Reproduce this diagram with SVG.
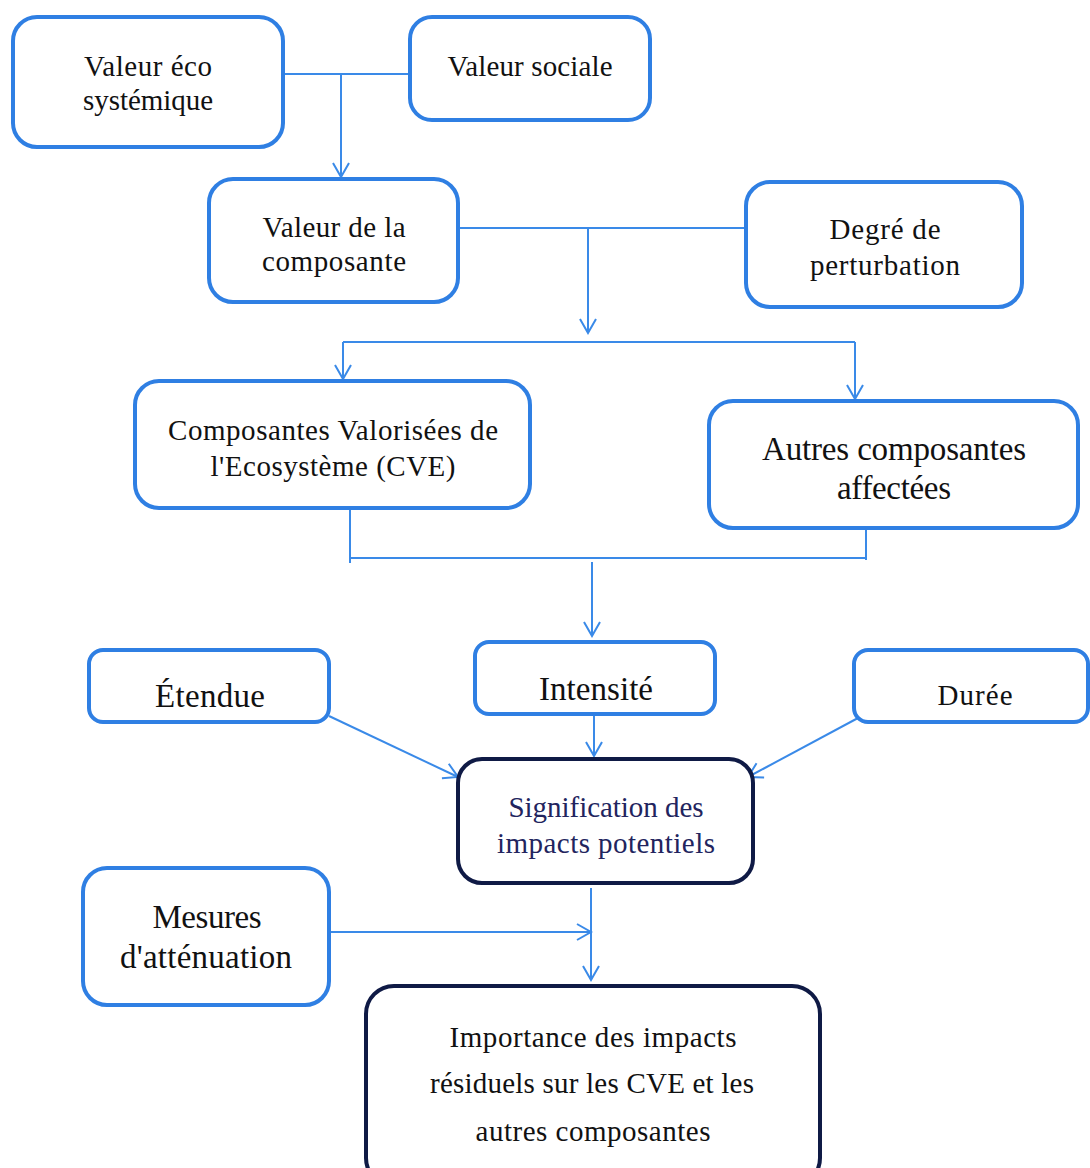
<svg xmlns="http://www.w3.org/2000/svg" width="1090" height="1168" viewBox="0 0 1090 1168">
<style>
.box{fill:#fff;stroke:#2f7fe3;stroke-width:4}
.dark{fill:#fff;stroke:#0f1a45;stroke-width:4}
text{font-family:'Liberation Serif','DejaVu Serif',serif;font-size:29px;fill:#111;text-anchor:middle}
.tl{font-size:33px}
.nv{fill:#22245e}
.c{fill:none;stroke:#3a8ae8;stroke-width:2}
</style>
<defs>
<marker id="ah" viewBox="0 0 20 20" refX="18" refY="10" markerWidth="20" markerHeight="20" markerUnits="userSpaceOnUse" orient="auto">
<path d="M4,2 L18,10 L4,18" fill="none" stroke="#3a8ae8" stroke-width="2"/>
</marker>
</defs>
<rect width="1090" height="1168" fill="#fff"/>
<g id="connectors">
<path class="c" d="M281,74 H410"/>
<path class="c" d="M341,74 V177" marker-end="url(#ah)"/>
<path class="c" d="M458,228 H746"/>
<path class="c" d="M588,228 V333" marker-end="url(#ah)"/>
<path class="c" d="M343,342 H855"/>
<path class="c" d="M343,342 V379" marker-end="url(#ah)"/>
<path class="c" d="M855,342 V399" marker-end="url(#ah)"/>
<path class="c" d="M350,508 V563"/>
<path class="c" d="M866,528 V560"/>
<path class="c" d="M350,558 H866"/>
<path class="c" d="M592,562 V636" marker-end="url(#ah)"/>
<path class="c" d="M329,716 L458,777" marker-end="url(#ah)"/>
<path class="c" d="M858,718 L748,777" marker-end="url(#ah)"/>
<path class="c" d="M594,714 V756" marker-end="url(#ah)"/>
<path class="c" d="M329,932 H591" marker-end="url(#ah)"/>
<path class="c" d="M591,888 V980" marker-end="url(#ah)"/>
</g>
<g id="valeur-eco">
<rect class="box" x="13" y="17" width="270" height="130" rx="24"/>
<text x="148" y="76" textLength="128">Valeur éco</text>
<text x="148" y="110" textLength="130">systémique</text>
</g>
<g id="valeur-sociale">
<rect class="box" x="410" y="17" width="240" height="103" rx="22"/>
<text x="530" y="76" textLength="165">Valeur sociale</text>
</g>
<g id="valeur-composante">
<rect class="box" x="209" y="179" width="249" height="123" rx="24"/>
<text x="334" y="237" textLength="143">Valeur de la</text>
<text x="334" y="271" textLength="144">composante</text>
</g>
<g id="degre-perturbation">
<rect class="box" x="746" y="182" width="276" height="125" rx="24"/>
<text x="885" y="239" textLength="111">Degré de</text>
<text x="885" y="275" textLength="150">perturbation</text>
</g>
<g id="cve">
<rect class="box" x="135" y="381" width="395" height="127" rx="24"/>
<text x="333" y="440" textLength="330">Composantes Valorisées de</text>
<text x="333" y="476" textLength="245">l'Ecosystème (CVE)</text>
</g>
<g id="autres-composantes">
<rect class="box" x="709" y="401" width="369" height="127" rx="24"/>
<text class="tl" x="894" y="460" textLength="264">Autres composantes</text>
<text class="tl" x="894" y="499" textLength="114">affectées</text>
</g>
<g id="intensite">
<rect class="box" x="475" y="642" width="240" height="72" rx="14"/>
<text class="tl" x="596" y="700" textLength="114">Intensité</text>
</g>
<g id="etendue">
<rect class="box" x="89" y="650" width="240" height="72" rx="14"/>
<text class="tl" x="210" y="707" textLength="110">Étendue</text>
</g>
<g id="duree">
<rect class="box" x="854" y="650" width="234" height="72" rx="14"/>
<text x="975" y="705" textLength="75">Durée</text>
</g>
<g id="signification">
<rect class="dark" x="458" y="759" width="295" height="124" rx="24"/>
<text class="nv" x="606" y="817" textLength="195">Signification des</text>
<text class="nv" x="606" y="853" textLength="218">impacts potentiels</text>
</g>
<g id="mesures">
<rect class="box" x="83" y="868" width="246" height="137" rx="24"/>
<text class="tl" x="207" y="928" textLength="109">Mesures</text>
<text class="tl" x="206" y="968" textLength="172">d'atténuation</text>
</g>
<g id="importance">
<rect class="dark" x="366" y="986" width="454" height="200" rx="28"/>
<text x="593" y="1047" textLength="287">Importance des impacts</text>
<text x="592" y="1093" textLength="324">résiduels sur les CVE et les</text>
<text x="593" y="1141" textLength="235">autres composantes</text>
</g>
</svg>
